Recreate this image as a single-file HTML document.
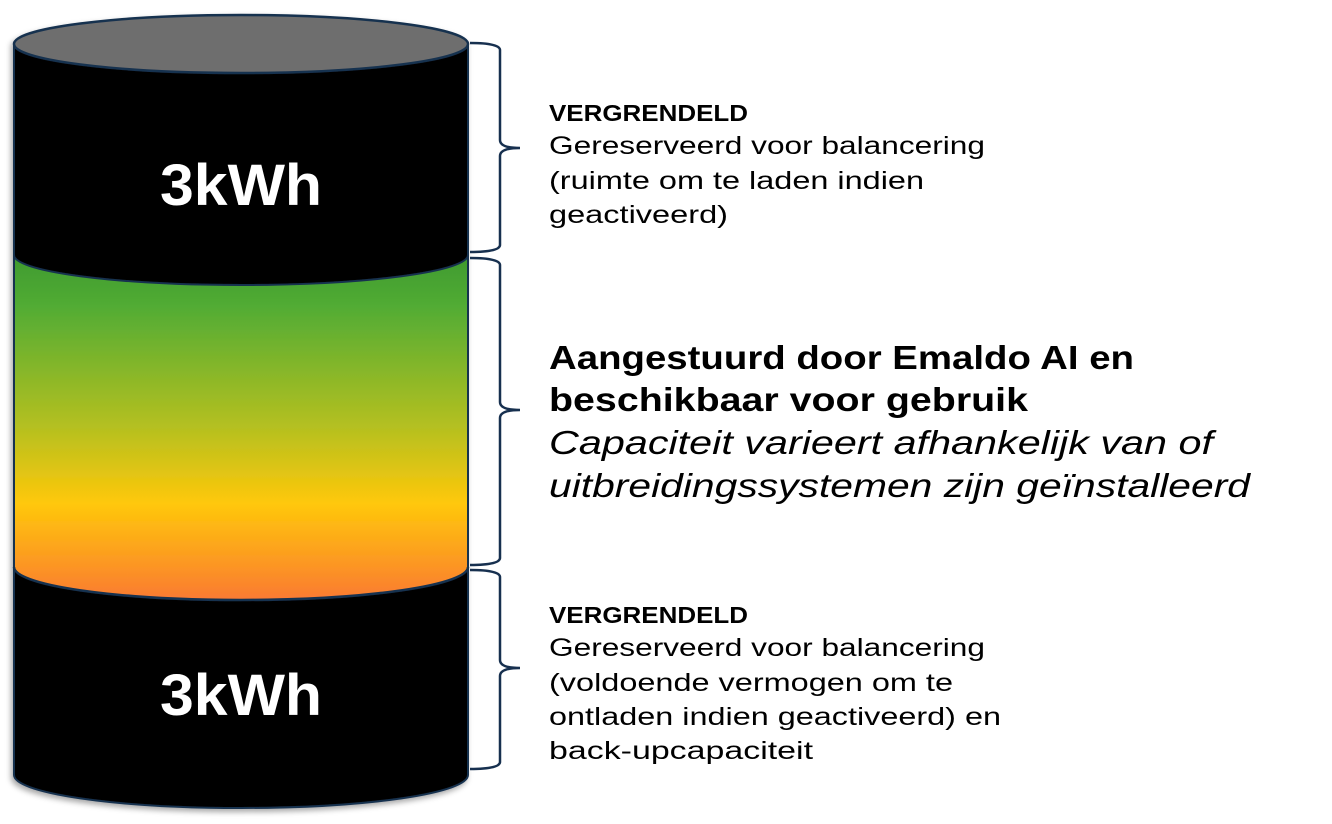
<!DOCTYPE html>
<html><head><meta charset="utf-8"><style>
body{margin:0;background:#fff;width:1332px;height:824px;overflow:hidden}
svg{display:block}
</style></head><body>
<svg width="1332" height="824" viewBox="0 0 1332 824" xmlns="http://www.w3.org/2000/svg">
<defs>
<linearGradient id="g" x1="0" y1="255" x2="0" y2="600" gradientUnits="userSpaceOnUse">
<stop offset="0" stop-color="#3e9a2e"/>
<stop offset="0.15" stop-color="#52ac34"/>
<stop offset="0.5" stop-color="#b5c020"/>
<stop offset="0.72" stop-color="#ffc80a"/>
<stop offset="1" stop-color="#fa7a32"/>
</linearGradient>
<filter id="sh" x="-5%" y="-5%" width="110%" height="110%"><feDropShadow dx="-2" dy="3" stdDeviation="3" flood-color="#000" flood-opacity="0.35"/></filter>
</defs>
<g filter="url(#sh)">
<path d="M14 567 L14 775 A227 33 0 0 0 468 775 L468 567 Z" fill="#050505" stroke="#17304f" stroke-width="2"/>
<path d="M14 255 L14 567 A227 33 0 0 0 468 567 L468 255 Z" fill="url(#g)"/>
<path d="M14 567 A227 33 0 0 0 468 567" fill="none" stroke="#17304f" stroke-width="2.5"/>
<path d="M14 44 L14 255 A227 30 0 0 0 468 255 L468 44 Z" fill="#050505"/>
<path d="M14 255 A227 30 0 0 0 468 255" fill="none" stroke="#17304f" stroke-width="2"/>
<line x1="14" y1="44" x2="14" y2="775" stroke="#17304f" stroke-width="2"/>
<line x1="468" y1="44" x2="468" y2="775" stroke="#17304f" stroke-width="2"/>
<ellipse cx="241" cy="44" rx="227" ry="29" fill="#6e6e6e" stroke="#17304f" stroke-width="2.5"/>
</g>
<text x="160" y="205" font-family="Liberation Sans, sans-serif" font-weight="bold" font-size="58" fill="#fff" textLength="162" lengthAdjust="spacingAndGlyphs">3kWh</text>
<text x="160" y="715" font-family="Liberation Sans, sans-serif" font-weight="bold" font-size="58" fill="#fff" textLength="162" lengthAdjust="spacingAndGlyphs">3kWh</text>
<g fill="none" stroke="#17304f" stroke-width="2.5">
<path d="M470 43 Q500 43 500 50 L500 140 Q500 148 520 148 Q500 148 500 156 L500 245 Q500 252 470 252"/>
<path d="M470 258 Q500 258 500 265 L500 402 Q500 410 520 410 Q500 410 500 418 L500 558 Q500 565 470 565"/>
<path d="M470 570 Q500 570 500 577 L500 660 Q500 668 520 668 Q500 668 500 676 L500 762 Q500 769 470 769"/>
</g>
<g font-family="Liberation Sans, sans-serif" fill="#000" lengthAdjust="spacingAndGlyphs">
<text x="549" y="121" font-size="23" font-weight="bold" textLength="199" lengthAdjust="spacingAndGlyphs">VERGRENDELD</text>
<text x="549" y="154" font-size="25" textLength="436" lengthAdjust="spacingAndGlyphs">Gereserveerd voor balancering</text>
<text x="549" y="189" font-size="25" textLength="375" lengthAdjust="spacingAndGlyphs">(ruimte om te laden indien</text>
<text x="549" y="223" font-size="25" textLength="179" lengthAdjust="spacingAndGlyphs">geactiveerd)</text>
<text x="549" y="369" font-size="33" font-weight="bold" textLength="585" lengthAdjust="spacingAndGlyphs">Aangestuurd door Emaldo AI en</text>
<text x="549" y="411" font-size="33" font-weight="bold" textLength="479" lengthAdjust="spacingAndGlyphs">beschikbaar voor gebruik</text>
<text x="549" y="454" font-size="33" font-style="italic" textLength="664" lengthAdjust="spacingAndGlyphs">Capaciteit varieert afhankelijk van of</text>
<text x="549" y="497" font-size="33" font-style="italic" textLength="701" lengthAdjust="spacingAndGlyphs">uitbreidingssystemen zijn geïnstalleerd</text>
<text x="549" y="623" font-size="23" font-weight="bold" textLength="199" lengthAdjust="spacingAndGlyphs">VERGRENDELD</text>
<text x="549" y="656" font-size="25" textLength="436" lengthAdjust="spacingAndGlyphs">Gereserveerd voor balancering</text>
<text x="549" y="691" font-size="25" textLength="404" lengthAdjust="spacingAndGlyphs">(voldoende vermogen om te</text>
<text x="549" y="725" font-size="25" textLength="452" lengthAdjust="spacingAndGlyphs">ontladen indien geactiveerd) en</text>
<text x="549" y="759" font-size="25" textLength="264" lengthAdjust="spacingAndGlyphs">back-upcapaciteit</text>
</g>
</svg>
</body></html>
